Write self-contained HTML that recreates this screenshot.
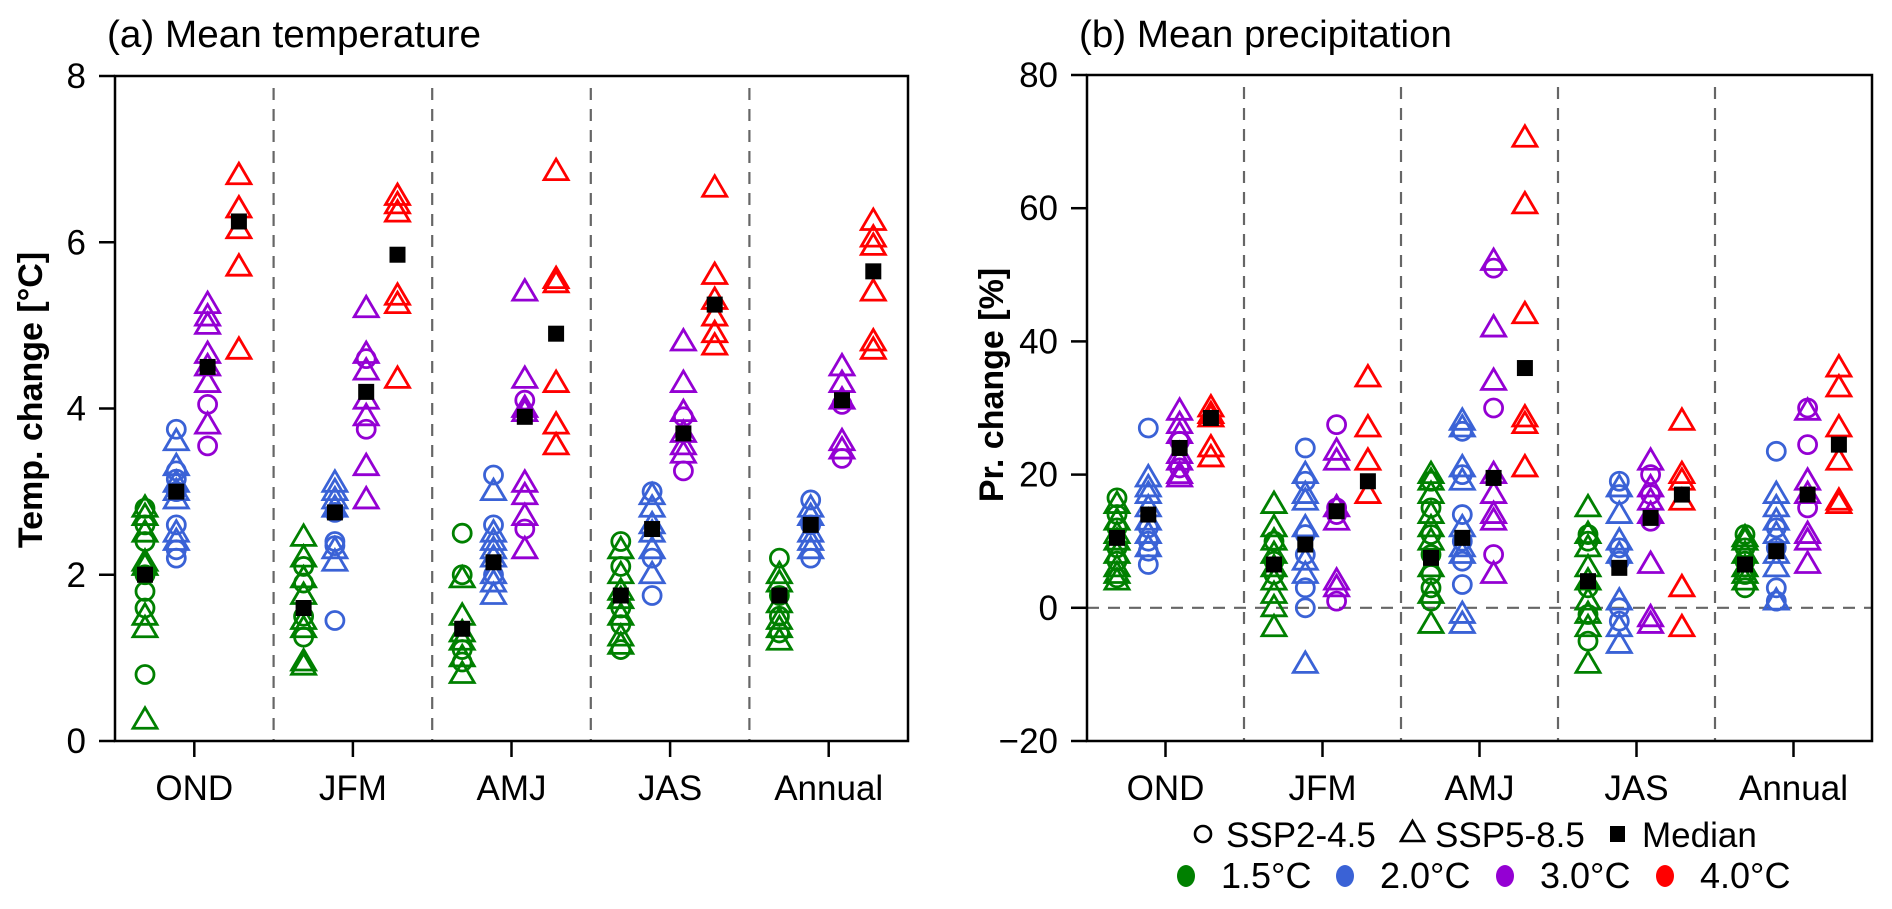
<!DOCTYPE html>
<html><head><meta charset="utf-8"><style>
html,body{margin:0;padding:0;background:#fff;}
svg{display:block;font-family:"Liberation Sans",Arial,sans-serif;}
</style></head><body>
<svg id="fig" width="1892" height="909" viewBox="0 0 1892 909" xmlns="http://www.w3.org/2000/svg"></svg>
<script>
const categories = ["OND","JFM","AMJ","JAS","Annual"];
const levels = ["1.5°C","2.0°C","3.0°C","4.0°C"];
const colors = ["#008000","#3a62d6","#9400d3","#ff0000"];
const tempTicks = [0,2,4,6,8];
const precTicks = [-20,0,20,40,60,80];

// Temperature: [category][level] circles (SSP2-4.5), triangles (SSP5-8.5), median
const tempCircles = [
 [[2.8,2.6,2.4,2.0,1.8,1.6,0.8],[3.75,3.25,3.15,3.0,2.6,2.3,2.2],[4.05,3.55],[]],
 [[2.1,1.9,1.5,1.25],[2.75,2.4,2.35,1.45],[4.6,3.75],[]],
 [[2.5,2.0,1.1,0.95],[3.2,2.6,2.0],[4.1,2.55],[]],
 [[2.4,2.1,1.6,1.4,1.1],[3.0,2.2,1.75],[3.9,3.25],[]],
 [[2.2,1.75,1.5,1.3],[2.9,2.6,2.2],[4.05,3.4],[]]
];
const tempTriangles = [
 [[2.8,2.7,2.5,2.15,2.1,1.5,1.35,0.25],[3.6,3.3,3.1,3.0,2.9,2.5,2.4],[5.25,5.1,5.0,4.65,4.5,4.3,3.8],[6.8,6.4,6.15,5.7,4.7]],
 [[2.45,2.2,1.95,1.75,1.45,1.35,0.95,0.9],[3.1,3.0,2.9,2.8,2.3,2.15],[5.2,4.65,4.45,4.1,3.9,3.3,2.9],[6.55,6.45,6.35,5.35,5.25,4.35]],
 [[1.95,1.5,1.3,1.2,1.0,0.8],[3.0,2.5,2.4,2.3,2.2,2.0,1.9,1.75],[5.4,4.35,4.0,3.95,3.1,2.95,2.7,2.3],[6.85,5.55,5.5,4.3,3.8,3.55]],
 [[2.3,2.0,1.8,1.7,1.5,1.25,1.15],[2.95,2.8,2.6,2.5,2.3,2.0],[4.8,4.3,3.95,3.7,3.55,3.45],[6.65,5.6,5.3,5.1,4.9,4.75]],
 [[2.0,1.9,1.65,1.45,1.35,1.2],[2.8,2.7,2.5,2.4,2.3],[4.5,4.3,4.1,3.6,3.5],[6.25,6.05,5.95,5.4,4.8,4.7]]
];
const tempMedians = [[2.0,3.0,4.5,6.25],[1.6,2.75,4.2,5.85],[1.35,2.15,3.9,4.9],[1.75,2.55,3.7,5.25],[1.75,2.6,4.1,5.65]];

const precCircles = [
 [[16.5,14,12,9,7,4.5],[27,12,10,8.5,6.5],[25,21],[]],
 [[10,7,5],[24,19,11,8,3,0],[27.5,15,14,1],[]],
 [[19,15,11,8,5,3,1],[26.5,20,14,10,7,3.5],[51,30,8],[]],
 [[11,10,3,-1,-5],[19,17,9,7,0,-2],[20,17,13],[]],
 [[11,9,7,5,3],[23.5,12,9,3,1],[30,24.5,15],[]]
];
const precTriangles = [
 [[15.5,13,11,10,8,6,5,4],[19.5,18,17,15,13,11,9],[29.5,27.5,26,23,22,20,19.5],[30,29,28.5,24,22.5]],
 [[15.5,12,10,8,6,4,2,0,-3],[20,17,16,12,7,5,-8.5],[23.5,22,15,13,4,3],[34.5,27,22,17]],
 [[20,19,17,14,12,10,6,2,-2.5],[28,27,21,19,12,9,8,-1,-2.5],[52,42,34,20,17,14,13,5],[70.5,60.5,44,28.5,27.5,21]],
 [[15,11,9,6,4,1,-1,-3,-8.5],[18,14,10,8,1,-3,-5.5],[22,18,16,14,6.5,-1.5,-2.5],[28,20,19,16,3,-3]],
 [[10.5,10,8,6,5,4],[17,15,13,11,8,6,1],[29.5,19,17,11,10,6.5],[36,33,27,22,16,15.5]]
];
const precMedians = [[10.5,14,24,28.5],[6.5,9.5,14.5,19],[7.5,10.5,19.5,36],[4,6,13.5,17],[6.5,8.5,17,24.5]];

const NS="http://www.w3.org/2000/svg";
const svg=document.getElementById('fig');
function mk(tag,attrs,parent){const e=document.createElementNS(NS,tag);for(const k in attrs)e.setAttribute(k,attrs[k]);(parent||svg).appendChild(e);return e;}
function txt(s,attrs,parent){const e=mk('text',attrs,parent);e.textContent=s;return e;}

function panel(opt){
  const {left,right,top,bottom,ymin,ymax,ticks,circles,triangles,medians,title,ylabel,zeroLine,id}=opt;
  const g=mk('g',{});
  
  
  const gw=(right-left)/categories.length;
  const y=v=>bottom-(v-ymin)/(ymax-ymin)*(bottom-top);
  const xg=(c,l)=>left+c*gw+30+l*31.3;
  for(let c=1;c<categories.length;c++){
    const d=mk('line',{x1:left+c*gw,x2:left+c*gw,y1:top+12,y2:bottom,stroke:'#666','stroke-width':2.2,'stroke-dasharray':'12,9'},g);
    
    
  }
  if(zeroLine){
    const z=mk('line',{x1:left,x2:right,y1:y(0),y2:y(0),stroke:'#666','stroke-width':2.2,'stroke-dasharray':'12,9'},g);
    
    
  }
  for(let c=0;c<categories.length;c++){
    for(let l=0;l<4;l++){
      const cx=xg(c,l);
      circles[c][l].forEach(v=>{
        const p=mk('circle',{cx:cx,cy:y(v),r:9,fill:'none',stroke:colors[l],'stroke-width':2.8},g);
        
        
      });
      triangles[c][l].forEach(v=>{
        const yy=y(v);
        const p=mk('polygon',{points:`${cx-12},${yy+8} ${cx+12},${yy+8} ${cx},${yy-12.5}`,fill:'none',stroke:colors[l],'stroke-width':2.8},g);
        
        
      });
    }
    for(let l=0;l<4;l++){
      const m=mk('rect',{x:xg(c,l)-8,y:y(medians[c][l])-8,width:16,height:16,fill:'#000'},g);
      
      
    }
  }
  const box=mk('rect',{x:left,y:top,width:right-left,height:bottom-top,fill:'none',stroke:'#000','stroke-width':2.5},g);
  
  
  ticks.forEach(t=>{
    mk('line',{x1:left-16,x2:left,y1:y(t),y2:y(t),stroke:'#000','stroke-width':2.5},g);
    const tl=txt(String(t).replace('-','−'),{x:left-29,y:y(t)+12,'text-anchor':'end','font-size':35},g);
    
    
  });
  categories.forEach((c,i)=>{
    const cx=left+(i+0.5)*gw;
    mk('line',{x1:cx,x2:cx,y1:bottom,y2:bottom+16,stroke:'#000','stroke-width':2.5},g);
    const tl=txt(c,{x:cx,y:800,'text-anchor':'middle','font-size':35},g);
    
    
  });
  const t=txt(title,{x:left-8,y:47,'font-size':38,textLength:opt.titleLen,lengthAdjust:'spacingAndGlyphs'},g);
  
  
  const yl=txt(ylabel,{x:opt.ylx,y:opt.ylc,'text-anchor':'middle','font-size':34,'font-weight':'bold',transform:`rotate(-90 ${opt.ylx} ${opt.ylc})`},g);
  
  
}
panel({id:'temperature',left:115,right:908,top:76,bottom:741,ymin:0,ymax:8,ticks:tempTicks,circles:tempCircles,triangles:tempTriangles,medians:tempMedians,title:'(a) Mean temperature',titleLen:374,ylabel:'Temp. change [°C]',zeroLine:false,ylx:42,ylc:400});
panel({id:'precipitation',left:1087,right:1872,top:75,bottom:741,ymin:-20,ymax:80,ticks:precTicks,circles:precCircles,triangles:precTriangles,medians:precMedians,title:'(b) Mean precipitation',titleLen:373,ylabel:'Pr. change [%]',zeroLine:true,ylx:1003,ylc:385});

const lg=mk('g',{});


const e1=mk('circle',{cx:1203,cy:834,r:8,fill:'none',stroke:'#000','stroke-width':2.6},lg);


txt('SSP2-4.5',{x:1226,y:847,'font-size':35},lg);
const e2=mk('polygon',{points:'1401,841 1424,841 1412.5,821',fill:'none',stroke:'#000','stroke-width':2.6},lg);


txt('SSP5-8.5',{x:1435,y:847,'font-size':35},lg);
const e3=mk('rect',{x:1610,y:826,width:15,height:16,fill:'#000'},lg);


txt('Median',{x:1642,y:847,'font-size':35},lg);
const dotX=[1186,1345,1505,1665];
levels.forEach((lv,i)=>{
  const d=mk('ellipse',{cx:dotX[i],cy:876,rx:9,ry:11,fill:colors[i]},lg);
  
  
  txt(lv,{x:dotX[i]+35,y:888,'font-size':36},lg);
});
</script>
</body></html>
